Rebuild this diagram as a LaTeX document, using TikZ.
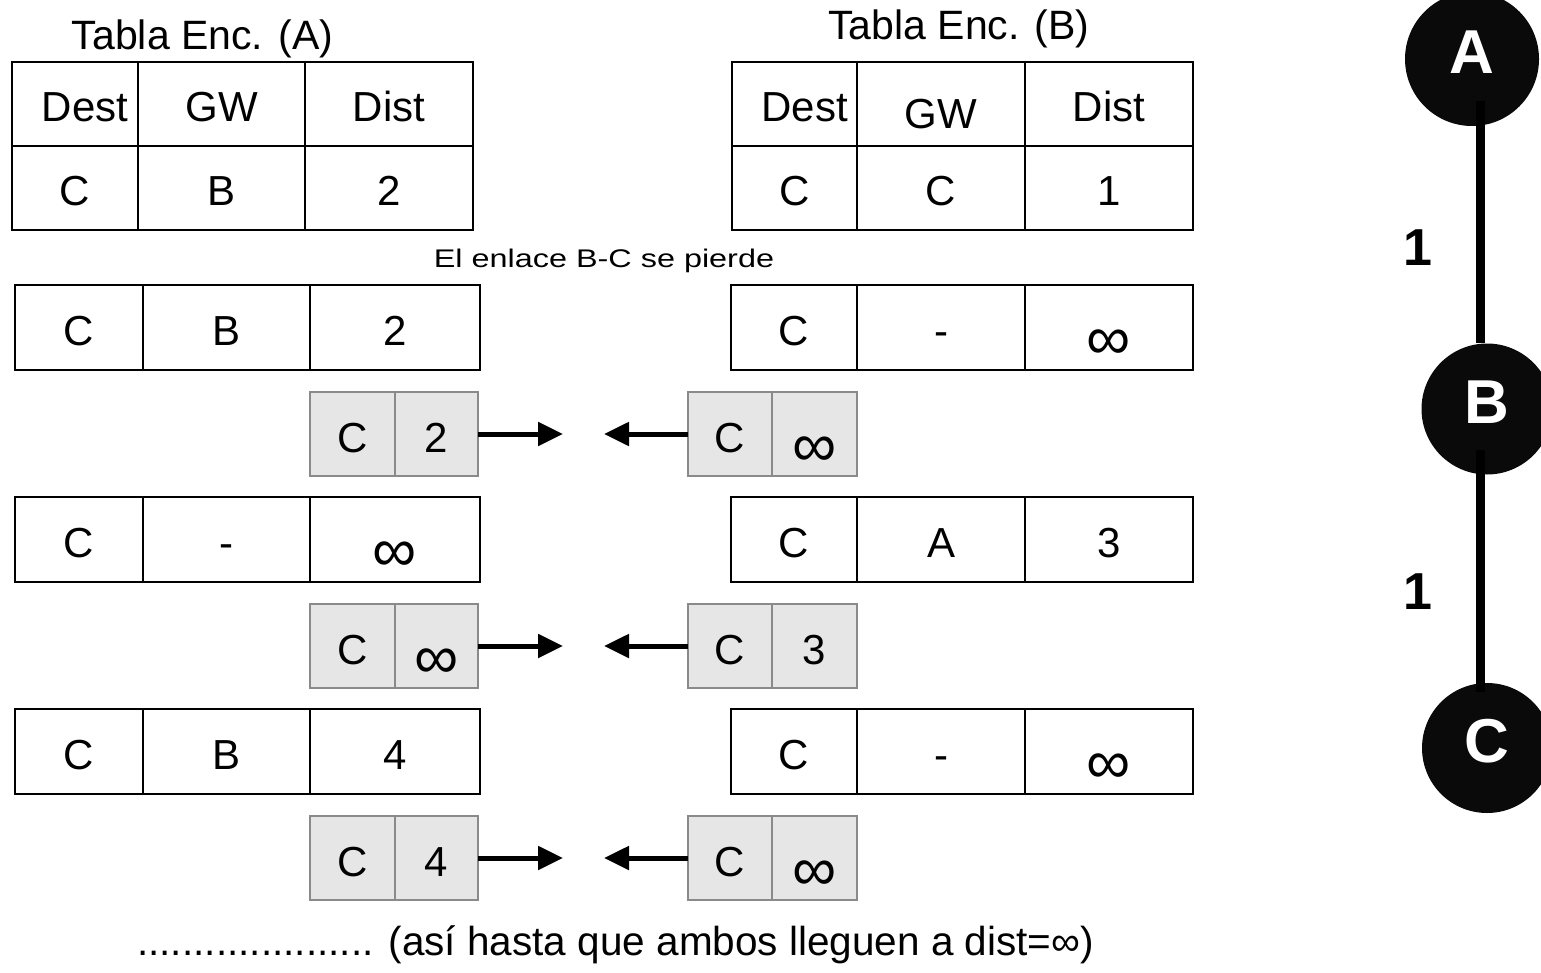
\documentclass[tikz,border=0pt]{standalone}
\usepackage{fontspec}
\setmainfont{Liberation Sans}
\usetikzlibrary{arrows.meta}

\definecolor{msgfill}{HTML}{E6E6E6}
\definecolor{msgline}{HTML}{8A8A8A}
\definecolor{vertexfill}{HTML}{0A0A0A}

% a table cell given by its left, right, top and bottom edges
\newcommand\cellnode[7][]{%
  \pgfmathsetmacro\cellcx{(#3+#4)/2}%
  \pgfmathsetmacro\cellcy{(#5+#6)/2}%
  \pgfmathsetmacro\cellw{#4-#3}%
  \pgfmathsetmacro\cellh{#6-#5}%
  \node[cell,minimum width=\cellw pt,minimum height=\cellh pt,#1] (#2) at (\cellcx,\cellcy) {#7};%
}
\newcommand\infsym{\raisebox{-14pt}{\fontsize{62}{62}\selectfont ∞}}

\begin{document}
\begin{tikzpicture}[x=1pt,y=-1pt,
  cell/.style={draw=black,line width=2.6pt,inner sep=0pt,outer sep=0pt,
    text height=36pt,text depth=0pt,font=\fontsize{42}{50}\selectfont},
  msgcell/.style={cell,draw=msgline,fill=msgfill},
  title/.style={anchor=base,inner sep=0pt,font=\fontsize{41}{48}\selectfont},
  vertex/.style={circle,fill=vertexfill,inner sep=0pt,text=white,
    text height=45pt,text depth=16pt,font=\fontsize{62}{62}\selectfont\bfseries},
  link/.style={line width=9pt,black},
  wlabel/.style={inner sep=0pt,font=\fontsize{52}{52}\selectfont\bfseries},
  msgarrow/.style={line width=5pt,-{Triangle[length=25pt,width=23pt]}}
]
\useasboundingbox (0,0) rectangle (1541,973);
\clip (0,0) rectangle (1541,973);

% routing table headers
\node[title] (titleA) at (202.5,50) {Tabla Enc. (A)};
\node[title] (titleB) at (959,40) {Tabla Enc. (B)};

\cellnode{ha1}{12}{138}{62}{146}{\hspace*{20pt}Dest}
\cellnode{ha2}{138}{305}{62}{146}{GW}
\cellnode{ha3}{305}{473}{62}{146}{Dist}
\cellnode{ra1}{12}{138}{146}{230}{C}
\cellnode{ra2}{138}{305}{146}{230}{B}
\cellnode{ra3}{305}{473}{146}{230}{2}

\cellnode{hb1}{732}{857}{62}{146}{\hspace*{20pt}Dest}
\cellnode{hb2}{857}{1025}{62}{146}{\raisebox{-7pt}{GW}}
\cellnode{hb3}{1025}{1193}{62}{146}{Dist}
\cellnode{rb1}{732}{857}{146}{230}{C}
\cellnode{rb2}{857}{1025}{146}{230}{C}
\cellnode{rb3}{1025}{1193}{146}{230}{1}

\node[inner sep=0pt,anchor=base,xscale=1.27,transform shape,
  font=\fontsize{25.5}{30}\selectfont] (lost) at (604,268) {El enlace B-C se pierde};

% step 1
\cellnode{s1a1}{15}{143}{285}{370}{C}
\cellnode{s1a2}{143}{310}{285}{370}{B}
\cellnode{s1a3}{310}{480}{285}{370}{2}
\cellnode{s1b1}{731}{857}{285}{370}{C}
\cellnode{s1b2}{857}{1025}{285}{370}{-}
\cellnode{s1b3}{1025}{1193}{285}{370}{\infsym}

\cellnode[msgcell]{m1a1}{310}{395}{392}{476}{C}
\cellnode[msgcell]{m1a2}{395}{478}{392}{476}{2}
\cellnode[msgcell]{m1b1}{688}{772}{392}{476}{C}
\cellnode[msgcell]{m1b2}{772}{857}{392}{476}{\infsym}
\coordinate (t1a) at (563,434);
\coordinate (t1b) at (604,434);
\draw[msgarrow] (m1a2.east) -- (t1a);
\draw[msgarrow] (m1b1.west) -- (t1b);

% step 2
\cellnode{s2a1}{15}{143}{497}{582}{C}
\cellnode{s2a2}{143}{310}{497}{582}{-}
\cellnode{s2a3}{310}{480}{497}{582}{\infsym}
\cellnode{s2b1}{731}{857}{497}{582}{C}
\cellnode{s2b2}{857}{1025}{497}{582}{A}
\cellnode{s2b3}{1025}{1193}{497}{582}{3}

\cellnode[msgcell]{m2a1}{310}{395}{604}{688}{C}
\cellnode[msgcell]{m2a2}{395}{478}{604}{688}{\infsym}
\cellnode[msgcell]{m2b1}{688}{772}{604}{688}{C}
\cellnode[msgcell]{m2b2}{772}{857}{604}{688}{3}
\coordinate (t2a) at (563,646);
\coordinate (t2b) at (604,646);
\draw[msgarrow] (m2a2.east) -- (t2a);
\draw[msgarrow] (m2b1.west) -- (t2b);

% step 3
\cellnode{s3a1}{15}{143}{709}{794}{C}
\cellnode{s3a2}{143}{310}{709}{794}{B}
\cellnode{s3a3}{310}{480}{709}{794}{4}
\cellnode{s3b1}{731}{857}{709}{794}{C}
\cellnode{s3b2}{857}{1025}{709}{794}{-}
\cellnode{s3b3}{1025}{1193}{709}{794}{\infsym}

\cellnode[msgcell]{m3a1}{310}{395}{816}{900}{C}
\cellnode[msgcell]{m3a2}{395}{478}{816}{900}{4}
\cellnode[msgcell]{m3b1}{688}{772}{816}{900}{C}
\cellnode[msgcell]{m3b2}{772}{857}{816}{900}{\infsym}
\coordinate (t3a) at (563,858);
\coordinate (t3b) at (604,858);
\draw[msgarrow] (m3a2.east) -- (t3a);
\draw[msgarrow] (m3b1.west) -- (t3b);

\node[title,anchor=base west,font=\fontsize{40.5}{48}\selectfont] (ending) at (137,955)
  {..................... (así hasta que ambos lleguen a dist=∞)};

% network A -- B -- C
\node[vertex,minimum size=134pt] (A) at (1472,59) {A};
\node[vertex,minimum size=131pt] (B) at (1487,409) {B};
\node[vertex,minimum size=130pt] (C) at (1487,748) {C};
\draw[link] ([shift={(8,42)}]A.center) -- ([shift={(-7,0)}]B.north);
\draw[link] ([shift={(-7,41)}]B.center) -- ([shift={(-7,9)}]C.north);
\node[wlabel] (w1) at (1418,248) {1};
\node[wlabel] (w2) at (1418,592) {1};
\end{tikzpicture}
\end{document}
